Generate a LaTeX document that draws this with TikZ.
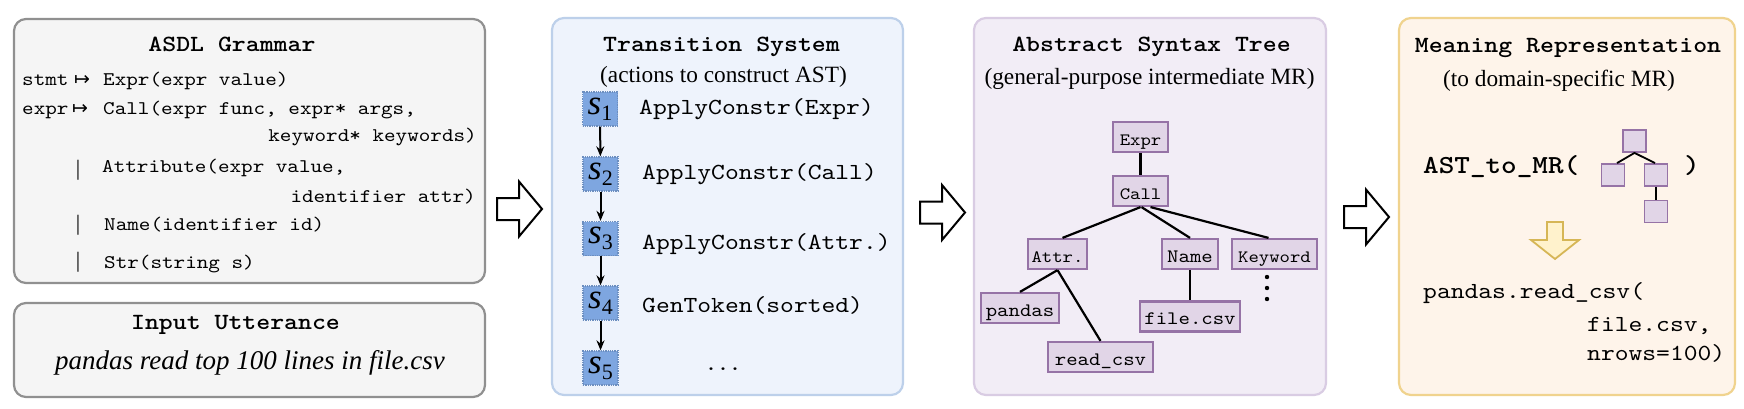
\documentclass[tikz,border=0pt]{standalone}
\usepackage{fontspec}
\setmainfont{Liberation Serif}
\setmonofont{lmmono10-regular.otf}[BoldFont=lmmonolt10-bold.otf, FakeStretch=1.143]
\newfontfamily\djvfont{DejaVu Sans}
\usetikzlibrary{arrows.meta}
\newcommand\fsz[1]{\fontsize{#1}{#1}\selectfont}
\newcommand\sst[1]{\textit{s}\raisebox{-0.17em}{\fsz{22}#1}}
\definecolor{grayfill}{HTML}{F5F5F5}
\definecolor{grayline}{HTML}{909090}
\definecolor{bluefill}{HTML}{EEF3FC}
\definecolor{blueline}{HTML}{BDD0EA}
\definecolor{purpfill}{HTML}{F2EDF6}
\definecolor{purpline}{HTML}{D9CCE3}
\definecolor{orfill}{HTML}{FEF4EA}
\definecolor{orline}{HTML}{F0D38E}
\definecolor{sfill}{HTML}{7EA6E0}
\definecolor{sline}{HTML}{6C8EBF}
\definecolor{nodef}{HTML}{E1D5E7}
\definecolor{nodeb}{HTML}{9673A6}
\definecolor{yfill}{HTML}{FFF2CC}
\definecolor{yline}{HTML}{D6B656}
\begin{document}
\begin{tikzpicture}[x=1pt,y=-1pt,
  panel/.style={rectangle, rounded corners=12pt, line width=2.2pt, inner sep=0pt},
  ttl/.style={anchor=base, font=\ttfamily\bfseries\fsz{23.2}, inner sep=0pt},
  sub/.style={anchor=base, font=\rmfamily\fsz{23.3}, inner sep=0pt},
  code/.style={anchor=base west, font=\ttfamily\fsz{19.3}, inner sep=0pt},
  codeR/.style={anchor=base east, font=\ttfamily\fsz{19.3}, inner sep=0pt},
  mapsym/.style={anchor=base west, font=\djvfont\fsz{19}, inner sep=0pt},
  barsym/.style={anchor=center, font=\rmfamily\fsz{22}, inner sep=0pt},
  act/.style={anchor=base west, font=\ttfamily\fsz{23}, inner sep=0pt},
  sbox/.style={draw=sline, fill=sfill, densely dotted, line width=1.3pt, minimum width=35pt, minimum height=34pt, inner sep=0pt, font=\rmfamily\fsz{35}},
  sarrow/.style={-{Stealth[length=10pt,width=8pt]}, line width=2pt},
  tnode/.style={draw=nodeb, fill=nodef, line width=2.2pt, inner sep=0pt, minimum height=30pt, text height=17pt, text depth=1pt, font=\ttfamily\fsz{17.3}},
  tnodeL/.style={tnode, font=\ttfamily\fsz{19}},
  tedge/.style={line width=2.2pt},
  mini/.style={draw=nodeb, fill=nodef, line width=1.8pt, minimum width=23pt, minimum height=22pt, inner sep=0pt},
  blockarrow/.pic={\draw[line width=2pt, fill=white, line join=miter] (0,-11) -- (22,-11) -- (22,-27.5) -- (45,0) -- (22,27.5) -- (22,11) -- (0,11) -- cycle;}
]
\fill[white] (0,0) rectangle (1744,409);
\useasboundingbox (0,0) rectangle (1744,409);

% panels
\node[panel, draw=grayline, fill=grayfill, minimum width=471pt, minimum height=264pt] (asdl) at (249.5,151) {};
\node[panel, draw=grayline, fill=grayfill, minimum width=471pt, minimum height=94pt] (utt) at (249.5,350) {};
\node[panel, draw=blueline, fill=bluefill, minimum width=351pt, minimum height=377pt] (trans) at (727.5,206.5) {};
\node[panel, draw=purpline, fill=purpfill, minimum width=352pt, minimum height=377pt] (ast) at (1150,206.5) {};
\node[panel, draw=orline, fill=orfill, minimum width=336pt, minimum height=377pt] (mr) at (1567,206.5) {};

% ASDL grammar
\node[ttl] (asdlT) at (232,52) {ASDL Grammar};
\node[code] (l1a) at (22,86) {stmt};
\node[mapsym] (l1b) at (74,86) {↦};
\node[code] (l1c) at (103,86) {Expr(expr value)};
\node[code] (l2a) at (22,115) {expr};
\node[mapsym] (l2b) at (72,115) {↦};
\node[code] (l2c) at (103,115) {Call(expr func, expr* args,};
\node[codeR] (l3) at (477,142) {keyword* keywords)};
\node[barsym] (b1) at (78,170) {|};
\node[code] (l4) at (102,172) {Attribute(expr value,};
\node[codeR] (l5) at (476,202) {identifier attr)};
\node[barsym] (b2) at (78,225) {|};
\node[code] (l6) at (104,230) {Name(identifier id)};
\node[barsym] (b3) at (78,262.5) {|};
\node[code] (l7) at (104,268) {Str(string s)};

% Input utterance
\node[ttl] (uttT) at (235.5,329) {Input Utterance};
\node[anchor=base, font=\rmfamily\itshape\fsz{27}, inner sep=0pt] (uttX) at (250,369) {pandas read top 100 lines in file.csv};

% Transition system
\node[ttl] (transT) at (721.5,52) {Transition System};
\node[sub] (transS) at (723.5,83) {(actions to construct AST)};
\node[sbox] (s1) at (600,109) {\sst{1}};
\node[sbox] (s2) at (600.5,174) {\sst{2}};
\node[sbox] (s3) at (600.5,238.5) {\sst{3}};
\node[sbox] (s4) at (600.5,303) {\sst{4}};
\node[sbox] (s5) at (600.5,368) {\sst{5}};
\draw[sarrow] (s1) -- (s2);
\draw[sarrow] (s2) -- (s3);
\draw[sarrow] (s3) -- (s4);
\draw[sarrow] (s4) -- (s5);
\node[act] (a1) at (639,115) {ApplyConstr(Expr)};
\node[act] (a2) at (642,179) {ApplyConstr(Call)};
\node[act] (a3) at (642,249) {ApplyConstr(Attr.)};
\node[act] (a4) at (642,312) {GenToken(sorted)};
\node[anchor=base, font=\ttfamily\bfseries\fsz{20}, inner sep=0pt] (a5) at (723,370) {...};

% AST
\node[ttl] (astT) at (1151.5,52) {Abstract Syntax Tree};
\node[sub] (astS) at (1149.5,85) {(general-purpose intermediate MR)};
\node[tnode, minimum width=55pt] (nExpr) at (1140.5,137) {Expr};
\node[tnode, minimum width=55pt] (nCall) at (1140.5,191) {Call};
\node[tnode, minimum width=59pt] (nAttr) at (1057.5,254) {Attr.};
\node[tnodeL, minimum width=56pt] (nName) at (1190,254) {Name};
\node[tnode, minimum width=85pt] (nKey) at (1274.5,254) {Keyword};
\node[tnodeL, minimum width=78pt] (nPandas) at (1020,308) {pandas};
\node[tnodeL, minimum width=105pt] (nRead) at (1100.5,357) {read\_csv};
\node[tnodeL, minimum width=100pt] (nFile) at (1190,316.5) {file.csv};
\draw[tedge] (nExpr) -- (nCall);
\draw[tedge] (nCall.south) -- ([xshift=5pt]nAttr.north);
\draw[tedge] ([xshift=1pt]nCall.south) -- (nName.north);
\draw[tedge] ([xshift=10pt]nCall.south) -- ([xshift=-6pt]nKey.north);
\draw[tedge] (nAttr.south) -- (nPandas.north);
\draw[tedge] (nAttr.south) -- (nRead.north);
\draw[tedge] (nName) -- (nFile);
\fill (1267,277) circle (2.2);
\fill (1267,288) circle (2.2);
\fill (1267,299) circle (2.2);

% MR
\node[ttl] (mrT) at (1568,53) {Meaning Representation};
\node[sub] (mrS) at (1559,87) {(to domain-specific MR)};
\node[anchor=base west, font=\ttfamily\bfseries\fsz{26}, inner sep=0pt] (fn) at (1423,173) {AST\_to\_MR(};
\node[anchor=base, font=\ttfamily\bfseries\fsz{26}, inner sep=0pt] (fnc) at (1692,173) {)};
\node[mini] (m0) at (1634.5,141) {};
\node[mini] (m1) at (1613,175) {};
\node[mini] (m2) at (1656,175) {};
\node[mini] (m3) at (1656,211.5) {};
\draw[line width=1.8pt] ([xshift=4pt]m1.north) -- (m0.south) -- ([xshift=-1pt]m2.north);
\draw[line width=1.8pt] (m2) -- (m3);
\draw[fill=yfill, draw=yline, line width=1.8pt, line join=miter] (1547,222) -- (1563,222) -- (1563,240) -- (1579,240) -- (1555,259) -- (1531,240) -- (1547,240) -- cycle;
\node[act] (r1) at (1423,298) {pandas.read\_csv(};
\node[act] (r2) at (1587,331) {file.csv,};
\node[act] (r3) at (1587,360) {nrows=100)};

% block arrows between panels
\pic at (497,209) {blockarrow};
\pic at (920,212.5) {blockarrow};
\pic at (1344,217) {blockarrow};
\end{tikzpicture}
\end{document}
